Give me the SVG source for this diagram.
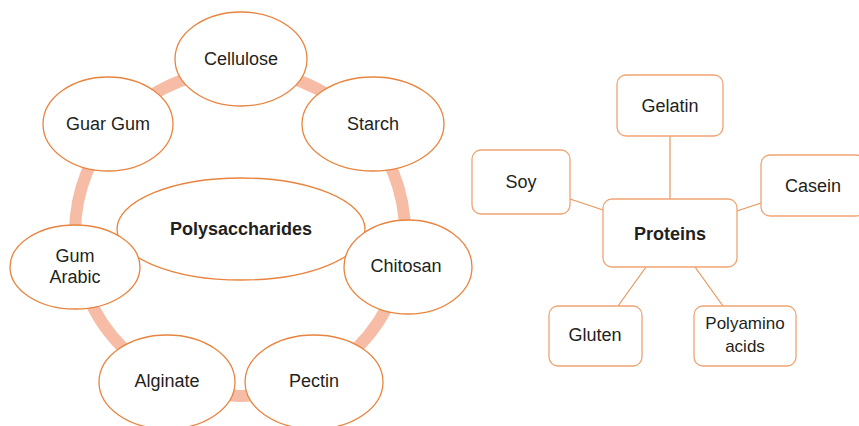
<svg xmlns="http://www.w3.org/2000/svg" width="859" height="426" viewBox="0 0 859 426">
<style>
.ell{fill:#fff;stroke:#e8843f;stroke-width:1.3}
.box{fill:#fff;stroke:#f0a473;stroke-width:1.3}
.t{font-family:"Liberation Sans",Arial,sans-serif;font-size:18px;fill:#231f20;text-anchor:middle}
.b{font-weight:bold}
.ln{stroke:#e8955a;stroke-width:1.2;fill:none}
.ring{stroke:#f7bca5;stroke-width:12;fill:none}
</style>
<rect width="859" height="426" fill="#fff"/>
<g id="connectors">
<ellipse class="ring" cx="240" cy="233" rx="165" ry="163"/>
<line class="ln" x1="670" y1="136" x2="670" y2="199"/>
<line class="ln" x1="570" y1="199" x2="603" y2="210"/>
<line class="ln" x1="737" y1="211" x2="761" y2="203"/>
<line class="ln" x1="646" y1="267" x2="618" y2="306"/>
<line class="ln" x1="695" y1="267" x2="723" y2="306"/>
</g>
<g id="cellulose"><ellipse class="ell" cx="241" cy="59" rx="66" ry="47"/><text class="t" x="241" y="65">Cellulose</text></g>
<g id="guargum"><ellipse class="ell" cx="108" cy="124" rx="65" ry="47"/><text class="t" x="108" y="130">Guar Gum</text></g>
<g id="starch"><ellipse class="ell" cx="373" cy="124" rx="71" ry="47"/><text class="t" x="373" y="130">Starch</text></g>
<g id="polysaccharides"><ellipse class="ell" cx="241" cy="229" rx="124" ry="51"/><text class="t b" x="241" y="235">Polysaccharides</text></g>
<g id="gumarabic"><ellipse class="ell" cx="75" cy="267" rx="65" ry="42"/><text class="t" x="75" y="262">Gum</text><text class="t" x="75" y="283">Arabic</text></g>
<g id="chitosan"><ellipse class="ell" cx="408" cy="267" rx="64" ry="47"/><text class="t" x="406" y="272">Chitosan</text></g>
<g id="alginate"><ellipse class="ell" cx="167" cy="382" rx="68" ry="47"/><text class="t" x="167" y="387">Alginate</text></g>
<g id="pectin"><ellipse class="ell" cx="314" cy="382" rx="69" ry="47"/><text class="t" x="314" y="387">Pectin</text></g>
<g id="gelatin"><rect class="box" x="617" y="75" width="106" height="61" rx="9"/><text class="t" x="670" y="112">Gelatin</text></g>
<g id="soy"><rect class="box" x="472" y="150" width="98" height="64" rx="9"/><text class="t" x="521" y="188">Soy</text></g>
<g id="casein"><rect class="box" x="761" y="155" width="104" height="61" rx="9"/><text class="t" x="813" y="192">Casein</text></g>
<g id="proteins"><rect class="box" x="603" y="199" width="134" height="68" rx="9"/><text class="t b" x="670" y="240">Proteins</text></g>
<g id="gluten"><rect class="box" x="549" y="306" width="93" height="60" rx="9"/><text class="t" x="595" y="341">Gluten</text></g>
<g id="polyamino"><rect class="box" x="694" y="306" width="102" height="60" rx="9"/><text class="t" x="745" y="329" style="font-size:17px">Polyamino</text><text class="t" x="745" y="352" style="font-size:17px">acids</text></g>
</svg>
